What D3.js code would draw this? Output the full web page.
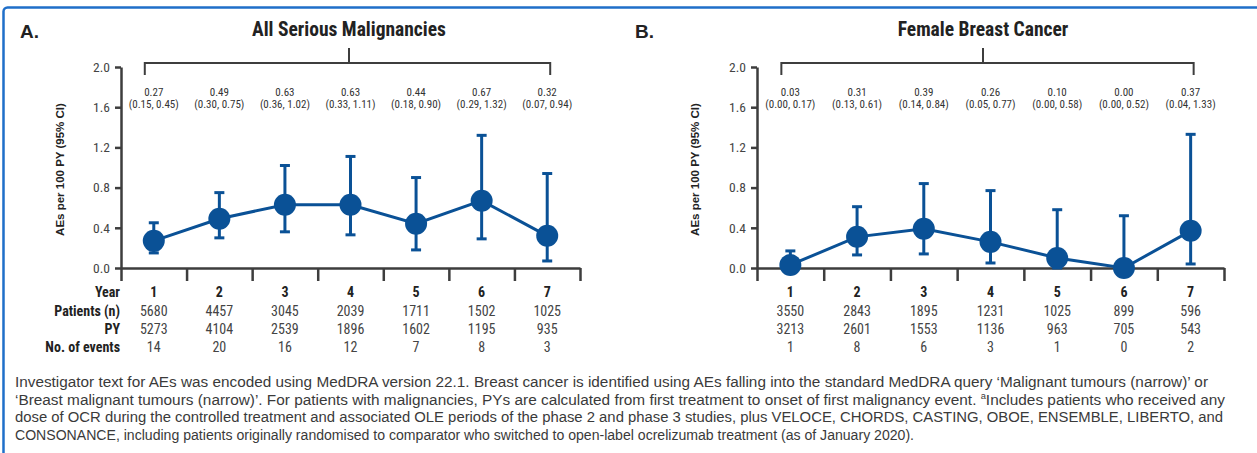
<!DOCTYPE html>
<html>
  <meta charset="utf-8" />
  <head>
    <script src="https://d3js.org/d3.v7.min.js"></script>
    <style>
      body {
        margin: 0;
        background: #fff;
      }
      svg {
        display: block;
      }
      .cond {
        font-family: "Liberation Sans Narrow", "Roboto Condensed", "DejaVu Sans Condensed", "Arial Narrow", sans-serif;
      }
    </style>
  </head>
  <body>
    <svg id="chart" width="1257" height="453"></svg>

    <script>
      // ---- data ----
      const years = [1, 2, 3, 4, 5, 6, 7];
      const yTicks = [0, 0.4, 0.8, 1.2, 1.6, 2.0];

      // A. all serious malignancies
      const allRate = [0.27, 0.49, 0.63, 0.63, 0.44, 0.67, 0.32];
      const allLow = [0.15, 0.30, 0.36, 0.33, 0.18, 0.29, 0.07];
      const allHigh = [0.45, 0.75, 1.02, 1.11, 0.90, 1.32, 0.94];
      const allPatients = [5680, 4457, 3045, 2039, 1711, 1502, 1025];
      const allPY = [5273, 4104, 2539, 1896, 1602, 1195, 935];
      const allEvents = [14, 20, 16, 12, 7, 8, 3];

      // B. female breast cancer
      const bcRate = [0.03, 0.31, 0.39, 0.26, 0.10, 0.00, 0.37];
      const bcLow = [0.00, 0.13, 0.14, 0.05, 0.00, 0.00, 0.04];
      const bcHigh = [0.17, 0.61, 0.84, 0.77, 0.58, 0.52, 1.33];
      const bcPatients = [3550, 2843, 1895, 1231, 1025, 899, 596];
      const bcPY = [3213, 2601, 1553, 1136, 963, 705, 543];
      const bcEvents = [1, 8, 6, 3, 1, 0, 2];

      const rowLabels = ["Year", "Patients (n)", "PY", "No. of events"];

      const footnote = [
        ["Investigator text for AEs was encoded using MedDRA version 22.1. Breast cancer is identified using AEs falling into the standard MedDRA query \u2018Malignant tumours (narrow)\u2019 or"],
        ["\u2018Breast malignant tumours (narrow)\u2019. For patients with malignancies, PYs are calculated from first treatment to onset of first malignancy event. ", "a", "Includes patients who received any"],
        ["dose of OCR during the controlled treatment and associated OLE periods of the phase 2 and phase 3 studies, plus VELOCE, CHORDS, CASTING, OBOE, ENSEMBLE, LIBERTO, and"],
        ["CONSONANCE, including patients originally randomised to comparator who switched to open-label ocrelizumab treatment (as of January 2020)."]
      ];
      // how wide each footnote line runs in the original
      const footnoteWidth = [1193, 1210, 1208, 899];

      const blue = "#0a5196";
      const axisCol = "#3d3d3d";
      const textCol = "#333";

      const svg = d3.select("#chart");

      // frame
      svg
        .append("rect")
        .attr("x", 3.5)
        .attr("y", 7.5)
        .attr("width", 1300)
        .attr("height", 500)
        .attr("rx", 4)
        .attr("fill", "none")
        .attr("stroke", "#1f6fc9")
        .attr("stroke-width", 2.5);

      const y = d3.scaleLinear().domain([0, 2]).range([268, 67]);

      function drawPanel(p) {
        const g = svg.append("g");
        const x = d3.scaleLinear().domain([0.5, 7.5]).range([p.x0, p.x1]);
        const rows = years.map((yr, i) => ({
          year: yr,
          rate: p.rate[i],
          low: p.low[i],
          high: p.high[i]
        }));

        // panel letter + title
        g.append("text")
          .attr("x", p.letterX)
          .attr("y", 38)
          .attr("font-family", "Liberation Sans, Arial, sans-serif")
          .attr("font-weight", "bold")
          .attr("font-size", 19)
          .attr("fill", "#222")
          .text(p.letter);

        g.append("text")
          .attr("class", "cond")
          .attr("x", p.titleX)
          .attr("y", 36)
          .attr("text-anchor", "middle")
          .attr("font-weight", "bold")
          .attr("font-size", 19.5)
          .attr("fill", "#222")
          .text(p.title);

        // bracket under the title
        const bl = x(1) - 9;
        const br = x(7) + 3;
        g.append("path")
          .attr("d", `M${bl},75V63H${br}V75M${p.titleX},63V48`)
          .attr("fill", "none")
          .attr("stroke", axisCol)
          .attr("stroke-width", 2);

        // rate + CI labels
        const ann = g
          .selectAll(".ann")
          .data(rows)
          .enter()
          .append("g")
          .attr("class", "cond")
          .attr("font-size", 11)
          .attr("fill", textCol)
          .attr("text-anchor", "middle");
        ann
          .append("text")
          .attr("x", (d) => x(d.year))
          .attr("y", 96)
          .text((d) => d.rate.toFixed(2));
        ann
          .append("text")
          .attr("x", (d) => x(d.year))
          .attr("y", 108)
          .text((d) => `(${d.low.toFixed(2)}, ${d.high.toFixed(2)})`);

        // y axis
        const ya = g
          .append("g")
          .attr("transform", `translate(${p.x0},0)`)
          .call(
            d3
              .axisLeft(y)
              .tickValues(yTicks)
              .tickSize(6)
              .tickSizeOuter(0)
              .tickPadding(5)
              .tickFormat(d3.format(".1f"))
          );
        ya.select(".domain").attr("stroke", axisCol).attr("stroke-width", 2.5);
        ya.selectAll(".tick line").attr("stroke", axisCol).attr("stroke-width", 2.5);
        ya.selectAll(".tick text")
          .attr("class", "cond")
          .attr("font-size", 13.5)
          .attr("fill", "#444");

        // x axis (ticks between years)
        const xa = g
          .append("g")
          .attr("transform", `translate(0,${y(0)})`)
          .call(
            d3
              .axisBottom(x)
              .tickValues(d3.range(0.5, 8, 1))
              .tickSize(13)
              .tickSizeOuter(0)
              .tickFormat("")
          );
        xa.select(".domain").attr("stroke", axisCol).attr("stroke-width", 2.5);
        xa.selectAll(".tick line").attr("stroke", axisCol).attr("stroke-width", 2.5);

        // y axis title
        g.append("text")
          .attr("transform", `translate(${p.labelX},${(y(0) + y(2)) / 2 + 2}) rotate(-90)`)
          .attr("text-anchor", "middle")
          .attr("font-family", "Liberation Sans, Arial, sans-serif")
          .attr("font-weight", "bold")
          .attr("font-size", 11.5)
          .attr("fill", "#222")
          .text("AEs per 100 PY (95% CI)");

        // error bars
        const eb = g.selectAll(".eb").data(rows).enter().append("g");
        eb.append("line")
          .attr("x1", (d) => x(d.year))
          .attr("x2", (d) => x(d.year))
          .attr("y1", (d) => y(d.low))
          .attr("y2", (d) => y(d.high))
          .attr("stroke", blue)
          .attr("stroke-width", 3);
        eb.append("line")
          .attr("x1", (d) => x(d.year) - 5)
          .attr("x2", (d) => x(d.year) + 5)
          .attr("y1", (d) => y(d.high))
          .attr("y2", (d) => y(d.high))
          .attr("stroke", blue)
          .attr("stroke-width", 3);
        eb.append("line")
          .attr("x1", (d) => x(d.year) - 5)
          .attr("x2", (d) => x(d.year) + 5)
          .attr("y1", (d) => y(d.low))
          .attr("y2", (d) => y(d.low))
          .attr("stroke", blue)
          .attr("stroke-width", 3);

        // connecting line
        g.append("path")
          .datum(rows)
          .attr("fill", "none")
          .attr("stroke", blue)
          .attr("stroke-width", 3)
          .attr(
            "d",
            d3
              .line()
              .x((d) => x(d.year))
              .y((d) => y(d.rate))
          );

        // markers
        g.selectAll(".pt")
          .data(rows)
          .enter()
          .append("circle")
          .attr("cx", (d) => x(d.year))
          .attr("cy", (d) => y(d.rate))
          .attr("r", 11)
          .attr("fill", blue);

        // table under the axis
        const tableRows = [years, p.patients, p.py, p.events];
        const rowY = [297, 315.5, 334, 352];
        tableRows.forEach((vals, r) => {
          g.selectAll(null)
            .data(vals)
            .enter()
            .append("text")
            .attr("class", "cond")
            .attr("x", (d, i) => x(years[i]))
            .attr("y", rowY[r])
            .attr("text-anchor", "middle")
            .attr("font-size", 14)
            .attr("font-weight", r === 0 ? "bold" : "normal")
            .attr("fill", r === 0 ? "#222" : "#444")
            .text((d) => d);
          if (p.showLabels) {
            g.append("text")
              .attr("class", "cond")
              .attr("x", p.x0 - 1)
              .attr("y", rowY[r])
              .attr("text-anchor", "end")
              .attr("font-size", 14)
              .attr("font-weight", "bold")
              .attr("fill", "#222")
              .text(rowLabels[r]);
          }
        });
      }

      drawPanel({
        letter: "A.",
        letterX: 20,
        title: "All Serious Malignancies",
        titleX: 349,
        x0: 121,
        x1: 580,
        labelX: 64,
        rate: allRate,
        low: allLow,
        high: allHigh,
        patients: allPatients,
        py: allPY,
        events: allEvents,
        showLabels: true
      });

      drawPanel({
        letter: "B.",
        letterX: 635,
        title: "Female Breast Cancer",
        titleX: 983,
        x0: 757,
        x1: 1224,
        labelX: 699,
        rate: bcRate,
        low: bcLow,
        high: bcHigh,
        patients: bcPatients,
        py: bcPY,
        events: bcEvents,
        showLabels: false
      });

      // footnote, one text element per line
      footnote.forEach((parts, i) => {
        const line = svg
          .append("text")
          .attr("x", 15)
          .attr("y", 387 + i * 17.5)
          .attr("font-family", "Liberation Sans, Arial, sans-serif")
          .attr("font-size", 14)
          .attr("fill", "#3a3a3a")
          .attr("textLength", footnoteWidth[i])
          .attr("lengthAdjust", "spacingAndGlyphs");
        parts.forEach((s, j) => {
          if (parts.length === 3 && j === 1) {
            line.append("tspan").attr("font-size", 8.5).attr("dy", -5.5).text(s);
          } else if (parts.length === 3 && j === 2) {
            line.append("tspan").attr("dy", 5.5).text(s);
          } else {
            line.append("tspan").text(s);
          }
        });
      });
    </script>
  </body>
</html>
